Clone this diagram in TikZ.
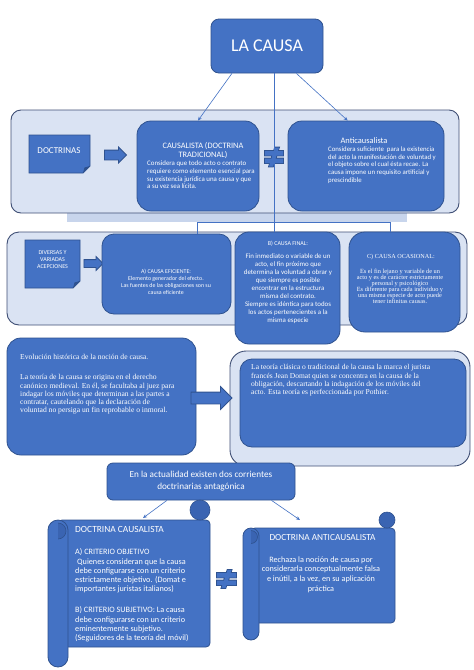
\documentclass[tikz,border=0pt]{standalone}
\usepackage{fontspec}
\setmainfont{Liberation Serif}
\setsansfont{Carlito}
\usetikzlibrary{shapes.arrows, arrows.meta, positioning, calc}

\definecolor{officeblue}{HTML}{4472C4}
\definecolor{officeedge}{HTML}{2F528F}
\definecolor{officeshade}{HTML}{3A64B2}
\definecolor{bandfill}{HTML}{DAE3F3}
\definecolor{bandedge}{HTML}{3F4F75}
\definecolor{shadowfill}{HTML}{C8D5EC}

\begin{document}
\begin{tikzpicture}[x=1pt, y=-1pt,
    bluebox/.style={draw=officeedge, line width=0.8pt, fill=officeblue, rounded corners=#1},
    bluebox/.default=12pt,
    bandbox/.style={draw=bandedge, line width=0.9pt, fill=bandfill, rounded corners=#1},
    bandbox/.default=12pt,
    notebox/.style={draw=officeedge, line width=0.8pt, fill=officeblue},
    scroll/.style={draw=officeedge, line width=0.8pt, fill=officeblue},
    curl/.style={draw=officeedge, line width=0.6pt, fill=officeshade},
    blockarrow/.style={single arrow, draw=officeedge, line width=0.8pt, fill=officeblue, inner sep=0pt, text depth=0pt},
    link/.style={draw=officeblue, line width=0.6pt},
    linkarrow/.style={link, -{Stealth[length=4pt, width=3.5pt]}},
    calibri/.style 2 args={text=white, inner sep=0pt, font=\sffamily\fontsize{#1}{#2}\selectfont},
    times/.style 2 args={text=white, inner sep=0pt, font=\rmfamily\fontsize{#1}{#2}\selectfont}
]
    \useasboundingbox (0,0) rectangle (474,670);
    \fill[white] (0,0) rectangle (474,670);

    % Title
    \node[bluebox=8pt, minimum width=112pt, minimum height=54pt, calibri={18}{20}] (causa) at (267,46) {LA CAUSA};

    % Doctrinas band
    \fill[shadowfill] (67,205) rectangle (407,222);
    \node[bandbox=10pt, minimum width=448pt, minimum height=103pt] (doctband) at (235,161.5) {};
    \filldraw[notebox] (29,135) -- (90,135) -- (90,166) -- (83,173) -- (29,173) -- cycle;
    \fill[officeedge] (90,166) -- (84.5,167.5) -- (83,173) -- cycle;
    \node[calibri={9}{11}] (doctrinas) at (59,151) {DOCTRINAS};
    \node[blockarrow, text height=9pt, minimum height=22pt, single arrow head extend=3pt] (doctarrow) at (113,155) {};
    \node[bluebox=14pt, minimum width=122pt, minimum height=90pt] (causalista) at (198,166) {};
    \node[bluebox=14pt, minimum width=156pt, minimum height=90pt] (anticausalista) at (366,166) {};
    \node[calibri={8.3}{9}, align=center] (caustitle) at (203,150.5) {CAUSALISTA (DOCTRINA\\TRADICIONAL)};
    \node[calibri={6.9}{7.7}, align=left, anchor=west] (causbody) at (147,175) {Considera que todo acto o contrato\\requiere como elemento esencial para\\su existencia jurídica una causa y que\\a su vez sea lícita.};
    \node[calibri={8.4}{9}] (antititle) at (364,141) {Anticausalista};
    \node[calibri={6.8}{7.6}, align=left, anchor=west] (antibody) at (328,165) {Considera suficiente\ \ para la existencia\\del acto la manifestación de voluntad y\\el objeto sobre el cual ésta recae. La\\causa impone un requisito artificial y\\prescindible};

    % Not equal sign between doctrines
    \begin{scope}[shift={(274,157)}]
        \draw[officeedge, line width=1.6pt] (-9,-6) rectangle (9,-1.5) (-9,1.5) rectangle (9,6) (-5,9.5) -- (-1,9.5) -- (5,-9.5) -- (1,-9.5) -- cycle;
        \fill[officeblue] (-9,-6) rectangle (9,-1.5) (-9,1.5) rectangle (9,6) (-5,9.5) -- (-1,9.5) -- (5,-9.5) -- (1,-9.5) -- cycle;
    \end{scope}

    % Acepciones band
    \node[bandbox=12pt, minimum width=460pt, minimum height=93pt] (acepband) at (237,278.5) {};
    \filldraw[notebox] (25,240) -- (80,240) -- (80,281) -- (73,288) -- (25,288) -- cycle;
    \fill[officeedge] (80,281) -- (74.5,282.5) -- (73,288) -- cycle;
    \node[calibri={6}{7}, align=center] (diversas) at (52.5,260) {DIVERSAS Y\\VARIADAS\\ACEPCIONES};
    \node[blockarrow, text height=7pt, minimum height=19pt, single arrow head extend=3pt] (acepdarrow) at (91.5,263.5) {};
    \node[bluebox=12pt, minimum width=129pt, minimum height=80pt] (eficiente) at (166.5,274) {};
    \node[bluebox=14pt, minimum width=105pt, minimum height=112pt] (final) at (287.5,288) {};
    \node[bluebox=16pt, minimum width=111pt, minimum height=100pt] (ocasional) at (404.5,282) {};
    \node[calibri={5.9}{7}, align=center] (efictext) at (166,281.5) {A) CAUSA EFICIENTE:\\Elemento generador del efecto.\\Las fuentes de las obligaciones son su\\causa eficiente};
    \node[calibri={6}{7}] (finaltitle) at (288,243.5) {B) CAUSA FINAL:};
    \node[calibri={6.9}{8}, align=center] (finalbody) at (288,289) {Fin inmediato o variable de un\\acto, el fin próximo que\\determina la voluntad a obrar y\\que siempre es posible\\encontrar en la estructura\\misma del contrato.\\Siempre es idéntica para todos\\los actos pertenecientes a la\\misma especie};
    \node[times={6.2}{7}] (ocastitle) at (401,257) {C) CAUSA OCASIONAL:};
    \node[times={6.3}{5.9}, align=center] (ocasbody) at (400,286.5) {Es el fin lejano y variable de un\\acto y es de carácter estrictamente\\personal y psicológico\\Es diferente para cada individuo y\\una misma especie de acto puede\\tener infinitas causas.};

    % Historical evolution
    \node[bluebox=14pt, minimum width=189pt, minimum height=117pt] (historia) at (101.5,396.5) {};
    \node[bandbox=16pt, minimum width=240pt, minimum height=115pt] (clasicaband) at (350,408.5) {};
    \node[bluebox=12pt, minimum width=226pt, minimum height=88pt] (clasica) at (353,403) {};
    \node[blockarrow, text height=11pt, minimum height=41pt, single arrow head extend=5.5pt] (histarrow) at (208.5,398) {};
    \node[times={7.6}{8.3}, align=left, anchor=west] (histtext) at (20,384.5) {Evolución histórica de la noción de causa.\\[11.7pt]La teoría de la causa se origina en el derecho\\canónico medieval. En él, se facultaba al juez para\\indagar los móviles que determinan a las partes a\\contratar, cautelando que la declaración de\\voluntad no persiga un fin reprobable o inmoral.};
    \node[times={7.5}{8.3}, align=left, anchor=west] (clasicatext) at (251,380.5) {La teoría clásica o tradicional de la causa la marca el jurista\\francés Jean Domat quien se concentra en la causa de la\\obligación, descartando la indagación de los móviles del\\acto. Esta teoría es perfeccionada por Pothier.};

    % Current doctrines
    \node[bluebox=6pt, minimum width=188pt, minimum height=37pt, calibri={9.2}{12}, align=center] (actualidad) at (201,481.5) {En la actualidad existen dos corrientes\\doctrinarias antagónica};

    % Left scroll
    \filldraw[scroll, rounded corners=4pt] (58,520) rectangle (210,647);
    \filldraw[curl] (200,510) circle (10);
    \filldraw[scroll, rounded corners=10pt] (48,520) rectangle (68,667);
    \begin{scope}
        \clip (58,520) rectangle (70,545);
        \filldraw[curl] (58,531) circle (8);
    \end{scope}
    \coordinate (scrollL) at (143,518);
    \node[calibri={9.4}{10}, anchor=west] (caustitle2) at (75,529) {DOCTRINA CAUSALISTA};
    \node[calibri={8.2}{9.3}, align=left, anchor=west] (criterios) at (75,595.5) {A) CRITERIO OBJETIVO\\\hspace*{2pt}Quienes consideran que la causa\\debe configurarse con un criterio\\estrictamente objetivo. (Domat e\\importantes juristas italianos)\\[11.7pt]B) CRITERIO SUBJETIVO: La causa\\debe configurarse con un criterio\\eminentemente subjetivo.\\(Seguidores de la teoría del móvil)};

    % Right scroll
    \filldraw[scroll, rounded corners=4pt] (251,528) rectangle (395,623);
    \filldraw[curl] (387,520) circle (8);
    \filldraw[scroll, rounded corners=8pt] (243,528) rectangle (259,640);
    \begin{scope}
        \clip (251,528) rectangle (261,550);
        \filldraw[curl] (251,537) circle (6.5);
    \end{scope}
    \coordinate (scrollR) at (300,520);
    \node[calibri={9.3}{10}] (antititle2) at (322.5,538) {DOCTRINA ANTICAUSALISTA};
    \node[calibri={8.2}{9.6}, align=center] (rechaza) at (321,574.5) {Rechaza la noción de causa por\\considerarla conceptualmente falsa\\e inútil, a la vez, en su aplicación\\práctica};

    % Not equal sign between scrolls
    \begin{scope}[shift={(226.5,579)}]
        \draw[officeedge, line width=1.6pt] (-9.5,-6) rectangle (9.5,-1.5) (-9.5,1.5) rectangle (9.5,6) (-5,9) -- (-1,9) -- (5,-9) -- (1,-9) -- cycle;
        \fill[officeblue] (-9.5,-6) rectangle (9.5,-1.5) (-9.5,1.5) rectangle (9.5,6) (-5,9) -- (-1,9) -- (5,-9) -- (1,-9) -- cycle;
    \end{scope}

    % Connectors
    \coordinate (trunk) at (274,222);
    \coordinate (busA) at (197,222);
    \coordinate (busC) at (390,222);
    \draw[linkarrow] (causa.218) -- (causalista.north);
    \draw[linkarrow] (causa.317) -- (anticausalista.112);
    \draw[link] (trunk |- causa.south) -- (trunk |- final.north);
    \draw[link] (busA |- eficiente.north) -- (busA) -- (busC) -- (busC |- ocasional.north);
    \draw[linkarrow] (actualidad.209) -- (scrollL);
    \draw[linkarrow] (actualidad.345) -- (scrollR);
\end{tikzpicture}
\end{document}
